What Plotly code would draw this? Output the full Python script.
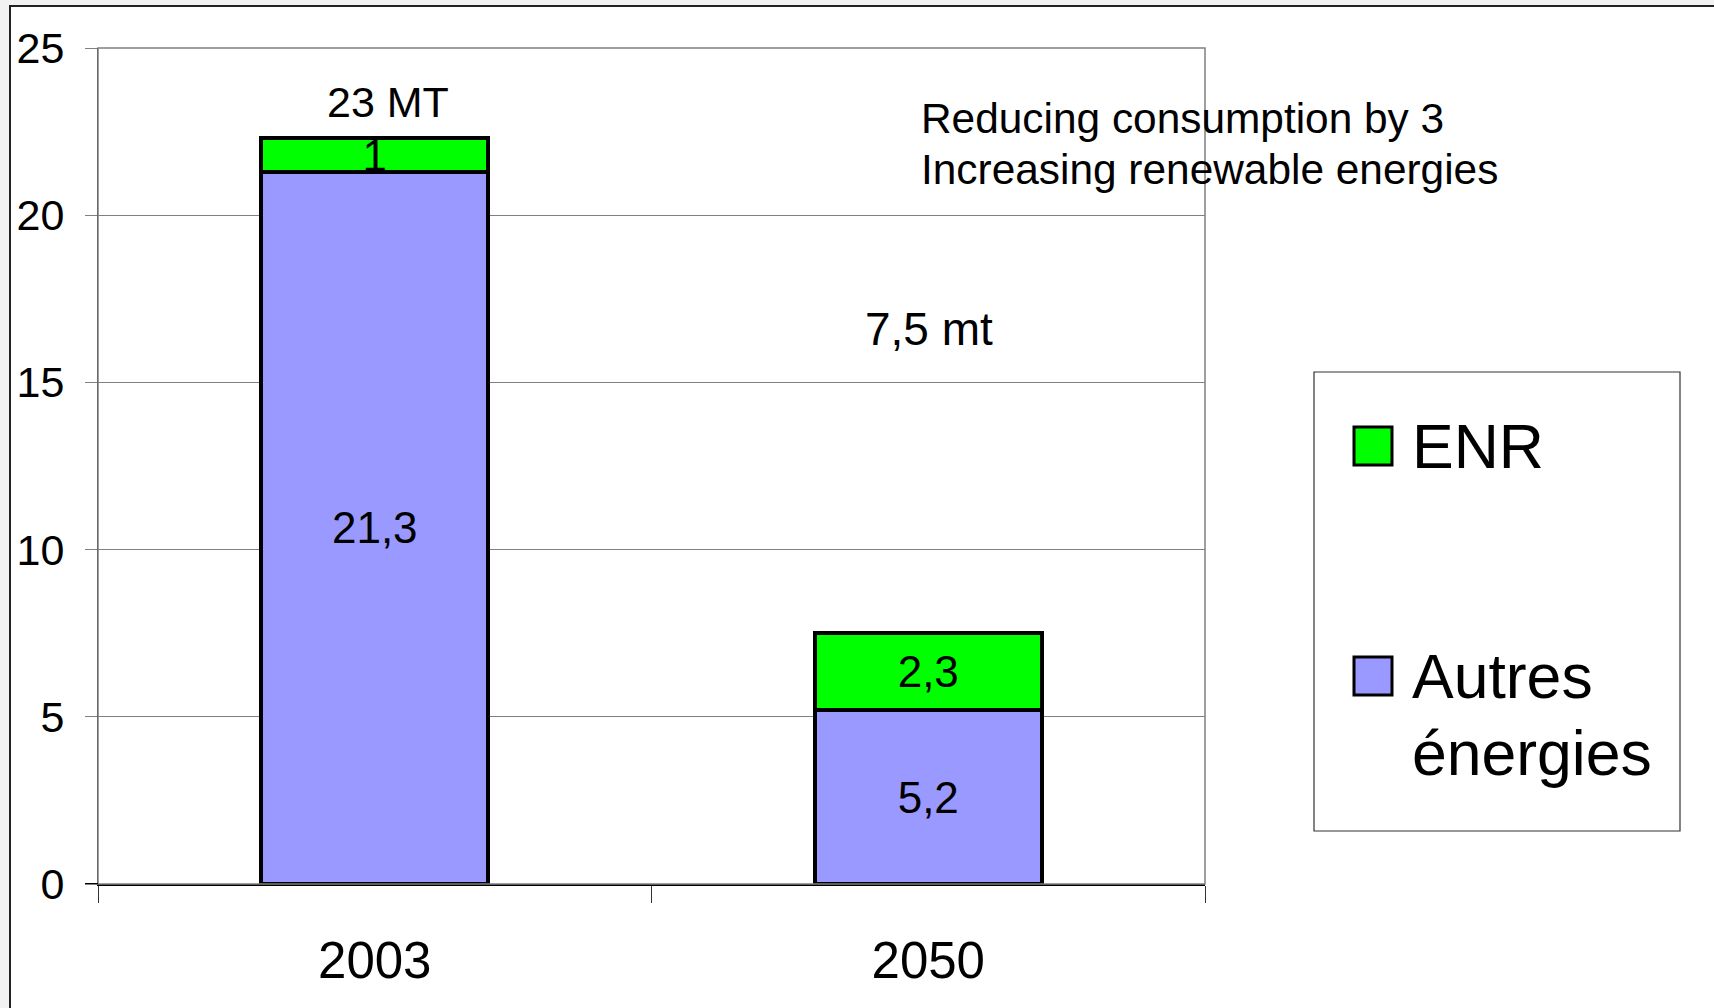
import plotly.graph_objects as go

# ---- data ----
categories = ["2003", "2050"]
series_names = ["ENR", "Autres énergies"]
autres = [21.3, 5.2]
enr = [1, 2.3]
total_labels = ["23 MT", "7,5 mt"]
note_lines = ["Reducing consumption by 3", "Increasing renewable energies"]
y_ticks = [0, 5, 10, 15, 20, 25]

colors = {"ENR": "#00FF00", "Autres énergies": "#9999FF"}

def fmt(v):
    return f"{v:g}".replace(".", ",")

W, H = 1714, 1008
L, R, T, B = 98, 1205, 48, 884  # plot box in px

def px(x):
    return (x - L) / (R - L)

def py(y):
    return (B - y) / (B - T)

FONT = "Liberation Sans, Arial, sans-serif"

fig = go.Figure()
for name, vals in [("Autres énergies", autres), ("ENR", enr)]:
    fig.add_trace(go.Bar(
        x=categories, y=vals, name=name,
        marker=dict(color=colors[name], line=dict(color="black", width=4)),
        text=[fmt(v) for v in vals], textposition="inside",
        insidetextanchor="middle", textangle=0, constraintext="none",
        textfont=dict(family=FONT, size=44, color="black"),
        showlegend=False,
    ))

shapes = []
annotations = []

# outer chart border
shapes.append(dict(type="rect", xref="paper", yref="paper", layer="below",
                   x0=px(10), x1=px(W + 50), y0=py(H + 50), y1=py(6),
                   line=dict(color="#222222", width=2), fillcolor="white"))
# plot area border (gray)
shapes.append(dict(type="rect", xref="paper", yref="paper", layer="above",
                   x0=0, x1=1, y0=0, y1=1,
                   line=dict(color="#808080", width=1.5)))
# black extension of the category axis line to the left of the value axis
shapes.append(dict(type="line", xref="paper", yref="y", layer="above",
                   x0=px(85), x1=0, y0=0, y1=0,
                   line=dict(color="black", width=2)))

# total labels above/near bars
totals_y = [23.4, 16.6]
total_sizes = [43, 46]
for i, (lab, yy) in enumerate(zip(total_labels, totals_y)):
    annotations.append(dict(x=i, y=yy, xref="x", yref="y", text=lab,
                            showarrow=False, xanchor="center", yanchor="middle",
                            xshift=13 if i == 0 else 1,
                            font=dict(family=FONT, size=total_sizes[i], color="black")))

# note text (two lines)
for k, line in enumerate(note_lines):
    annotations.append(dict(x=px(919), y=py(118 + 51 * k), xref="paper", yref="paper",
                            text=line, showarrow=False,
                            xanchor="left", yanchor="middle", align="left",
                            font=dict(family=FONT, size=42.4, color="black")))

# custom legend
shapes.append(dict(type="rect", xref="paper", yref="paper",
                   x0=px(1314), x1=px(1680), y0=py(831), y1=py(372),
                   line=dict(color="#333333", width=1.2), fillcolor="white"))
legend_rows = {"ENR": 446, "Autres énergies": 676}
for name in series_names:
    cy = legend_rows[name]
    shapes.append(dict(type="rect", xref="paper", yref="paper",
                       x0=px(1354), x1=px(1392), y0=py(cy + 19), y1=py(cy - 19),
                       line=dict(color="black", width=3), fillcolor=colors[name]))
    for k, word in enumerate(name.split(" ")):
        annotations.append(dict(x=px(1410), y=py(cy + 77 * k), xref="paper", yref="paper",
                                text=word, showarrow=False, xanchor="left",
                                yanchor="middle", align="left",
                                font=dict(family=FONT, size=62.5, color="black")))

fig.update_layout(
    width=W, height=H,
    margin=dict(l=L, r=W - R, t=T, b=H - B, pad=0),
    paper_bgcolor="#f2f2f2", plot_bgcolor="white",
    barmode="stack", bargap=0.59,
    showlegend=False,
    shapes=shapes, annotations=annotations,
    font=dict(family=FONT, color="black"),
    xaxis=dict(type="category", range=[-0.5, 1.5], tickson="boundaries",
               ticks="outside", tickangle=0,
               ticklen=17, tickcolor="#333333", tickwidth=1,
               showgrid=False, showline=True, linecolor="black", linewidth=2,
               tickfont=dict(family=FONT, size=51, color="black"),
               ticklabelstandoff=31),
    yaxis=dict(range=[0, 25], tickvals=y_ticks, ticks="outside", ticklen=12,
               tickcolor="#808080", showgrid=True, gridcolor="#808080",
               gridwidth=1, zeroline=False, showline=True, linecolor="#222222",
               linewidth=1, tickfont=dict(family=FONT, size=43, color="black"),
               ticklabelstandoff=12),
)

fig.write_html(
    "out.html",
    config={"displayModeBar": False},
    post_script="document.body.style.margin='0';document.body.style.background='#f2f2f2';",
)
